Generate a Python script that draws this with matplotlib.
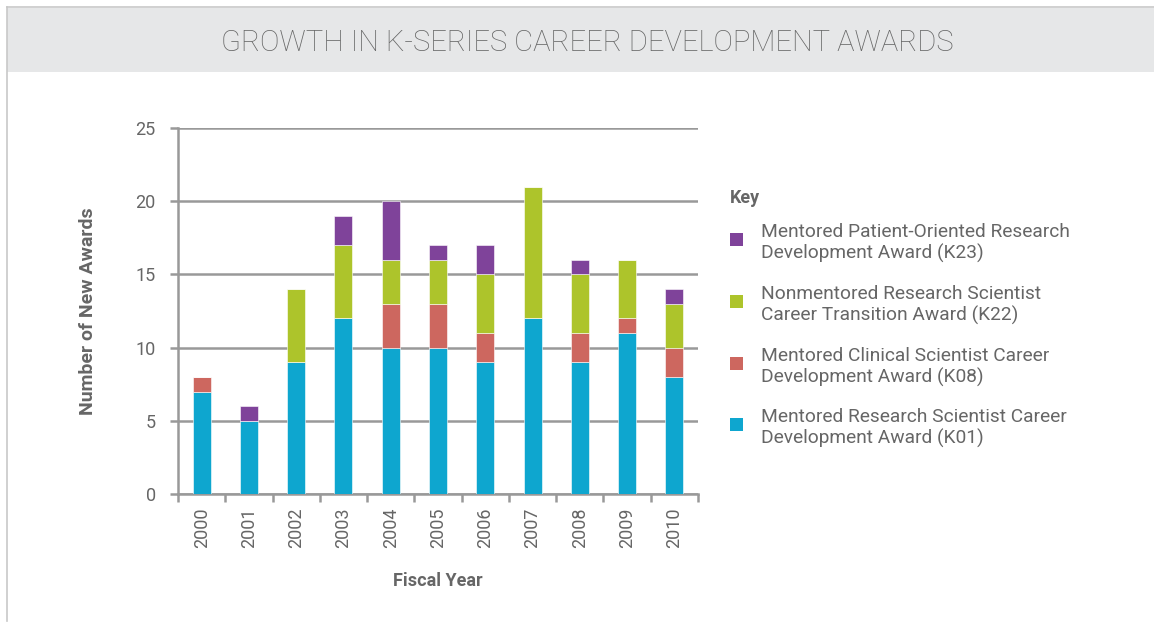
import matplotlib

matplotlib.use("Agg")
import matplotlib.patches
import matplotlib.pyplot as plt
import numpy as np

plt.rcParams["font.family"] = ["Roboto", "DejaVu Sans"]

years = ["2000", "2001", "2002", "2003", "2004", "2005", "2006", "2007", "2008", "2009", "2010"]
k01 = [7, 5, 9, 12, 10, 10, 9, 12, 9, 11, 8]
k08 = [1, 0, 0, 0, 3, 3, 2, 0, 2, 1, 2]
k22 = [0, 0, 5, 5, 3, 3, 4, 9, 4, 4, 3]
k23 = [0, 1, 0, 2, 4, 1, 2, 0, 1, 0, 1]

series = [
    ("Mentored Research Scientist Career\nDevelopment Award (K01)", k01, "#0ea6cf"),
    ("Mentored Clinical Scientist Career\nDevelopment Award (K08)", k08, "#cd675f"),
    ("Nonmentored Research Scientist\nCareer Transition Award (K22)", k22, "#adc42b"),
    ("Mentored Patient-Oriented Research\nDevelopment Award (K23)", k23, "#7f439a"),
]

text_color = "#666666"
line_color = "#999999"

fig = plt.figure(figsize=(11.54, 6.23), dpi=100)

# title band and frame
fig.patches.append(matplotlib.patches.Rectangle(
    (7 / 1154, 1 - 72 / 623), 1, 64 / 623, transform=fig.transFigure,
    facecolor="#e6e7e8", edgecolor="none", zorder=0))
fig.lines.append(plt.Line2D([7 / 1154, 1], [1 - 7 / 623] * 2, transform=fig.transFigure,
                            color="#c8c8c8", lw=1.2))
fig.lines.append(plt.Line2D([7 / 1154] * 2, [1 - 7 / 623, 0.003], transform=fig.transFigure,
                            color="#c8c8c8", lw=1.2))
fig.text(587 / 1154, 1 - 43 / 623, "GROWTH IN K-SERIES CAREER DEVELOPMENT AWARDS",
         ha="center", va="center", fontsize=21, color=text_color, fontweight="light")

ax = fig.add_axes([178 / 1154, 1 - 494 / 623, 520 / 1154, 366 / 623])

x = np.arange(len(years))
bottom = np.zeros(len(years))
for label, values, color in series:
    ax.bar(x, values, width=0.38, bottom=bottom, color=color,
           edgecolor="white", linewidth=0.4, zorder=3)
    bottom += np.array(values)

ax.set_xlim(-0.5, len(years) - 0.5)
ax.set_ylim(0, 25)
ax.set_yticks(range(0, 26, 5))
ax.yaxis.grid(True, color=line_color, lw=1.8, zorder=1)
ax.set_axisbelow(True)

ax.set_xticks(x)
ax.set_xticklabels(years, rotation=90)
ax.set_xticks(np.arange(-0.5, len(years)), minor=True)
ax.tick_params(axis="x", which="major", length=0, pad=10, labelsize=13, labelcolor=text_color)
ax.tick_params(axis="x", which="minor", length=6, width=1.8, color=line_color, direction="out")
ax.tick_params(axis="y", length=6, width=1.8, color=line_color, pad=10,
               labelsize=13, labelcolor=text_color)

for side in ["top", "right"]:
    ax.spines[side].set_visible(False)
for side in ["left", "bottom"]:
    ax.spines[side].set_color(line_color)
    ax.spines[side].set_linewidth(1.8)

ax.set_ylabel("Number of New Awards", fontsize=14, fontweight="bold",
              color=text_color, labelpad=28)
ax.set_xlabel("Fiscal Year", fontsize=13, fontweight="bold", color=text_color, labelpad=17)

# legend
fig.text(730 / 1154, 1 - 198 / 623, "Key", fontsize=13, fontweight="bold",
         color=text_color, va="center")
legend_y = [243, 305, 367, 428]
for (label, values, color), y in zip(reversed(series), legend_y):
    fig.patches.append(matplotlib.patches.Rectangle(
        (730 / 1154, 1 - (y + 3) / 623), 13 / 1154, 13 / 623, transform=fig.transFigure,
        facecolor=color, edgecolor="none"))
    fig.text(761 / 1154, 1 - y / 623, label, fontsize=13.8, color=text_color,
             va="center", linespacing=1.2)

fig.savefig("out.png", dpi=100)
